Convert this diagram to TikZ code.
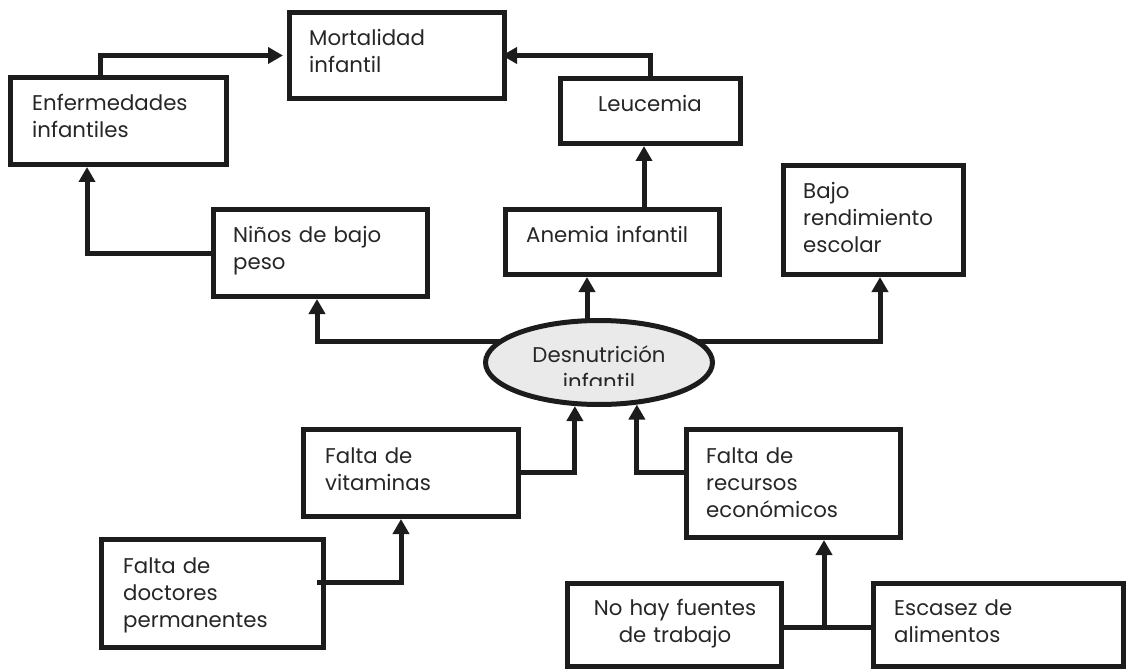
\documentclass[tikz,border=0pt]{standalone}
\usepackage{fontspec}
\setmainfont{Poppins}
\usetikzlibrary{arrows.meta,shapes.geometric,backgrounds}
\definecolor{ink}{HTML}{1C1C1C}
\definecolor{txtc}{HTML}{262626}
\definecolor{ellfill}{HTML}{EAEAEA}
\tikzset{
  box/.style={draw=ink,line width=5pt,rectangle,inner sep=0pt},
  oval/.style={draw=ink,line width=5pt,ellipse,inner sep=0pt,fill=ellfill},
  txt/.style={inner sep=0pt,text=txtc,align=left,font=\fontsize{21.3}{27}\selectfont},
  ctxt/.style={inner sep=0pt,text=txtc,align=center,font=\fontsize{21.3}{27}\selectfont},
  conn/.style={draw=ink,line width=5pt},
  arr/.style={conn,-{Triangle[width=16pt,length=15pt]}}
}
\begin{document}
\begin{tikzpicture}[x=1pt,y=-1pt]
\useasboundingbox (0,0) rectangle (1135,671);
% boxes
\node[box,minimum width=215pt,minimum height=86pt] (mort) at (397,55.5) {};
\node[box,minimum width=216pt,minimum height=87pt] (enf) at (118.5,121) {};
\node[box,minimum width=180pt,minimum height=65pt] (leu) at (650.5,111) {};
\node[box,minimum width=214pt,minimum height=87pt] (nin) at (320.5,253) {};
\node[box,minimum width=214pt,minimum height=65pt] (ane) at (612.5,242) {};
\node[box,minimum width=180pt,minimum height=109pt] (baj) at (873.5,220) {};
\node[oval,minimum width=227pt,minimum height=84pt] (ell) at (599,362.5) {};
\node[box,minimum width=215pt,minimum height=87pt] (vit) at (411,473) {};
\node[box,minimum width=222pt,minimum height=108pt] (doc) at (212.5,593.5) {};
\node[box,minimum width=214pt,minimum height=108pt] (rec) at (793.5,483.5) {};
\node[box,minimum width=214pt,minimum height=83pt] (noh) at (674.5,625) {};
\node[box,minimum width=250pt,minimum height=83pt] (esc) at (998.5,625) {};
% texts
\node[txt,text width=190pt,anchor=base west] (tmort) at (309,46) {Mortalidad\\infantil};
\node[txt,text width=190pt,anchor=base west] (tenf) at (32,111) {Enfermedades\\infantiles};
\node[ctxt,text width=170pt,anchor=base] (tleu) at (650,112) {Leucemia};
\node[txt,text width=190pt,anchor=base west] (tnin) at (233,243) {Niños de bajo\\peso};
\node[txt,text width=190pt,anchor=base west] (tane) at (526,243) {Anemia infantil};
\node[txt,text width=160pt,anchor=base west] (tbaj) at (803,199) {Bajo\\rendimiento\\escolar};
\node[txt,text width=190pt,anchor=base west] (tvit) at (325,463) {Falta de\\vitaminas};
\node[txt,text width=190pt,anchor=base west] (tdoc) at (123,573) {Falta de\\doctores\\permanentes};
\node[txt,text width=190pt,anchor=base west] (trec) at (706,463) {Falta de\\recursos\\económicos};
\node[ctxt,text width=200pt,anchor=base] (tnoh) at (675,615) {No hay fuentes\\de trabajo};
\node[txt,text width=220pt,anchor=base west] (tesc) at (894,615) {Escasez de\\alimentos};
\begin{scope}
  \clip (470,300) rectangle (730,385);
  \node[ctxt,text width=200pt,anchor=base] (tell) at (599,362) {Desnutrición\\infantil};
\end{scope}
% helper coordinates
\coordinate (x87) at (87,0);
\coordinate (x100) at (100,0);
\coordinate (x317) at (317,0);
\coordinate (x401) at (401,0);
\coordinate (x587) at (587,0);
\coordinate (x644) at (644,0);
\coordinate (x824) at (824,0);
\coordinate (x880) at (880,0);
\coordinate (h341) at (0,341);
\coordinate (h472) at (0,472);
\coordinate (h582) at (0,582);
\coordinate (h627) at (0,627);
% connectors
\draw[arr,shorten >=4pt] (enf.north -| x100) |- (mort.west);
\draw[arr,shorten >=-5pt] (leu.north) |- (mort.east);
\draw[arr] (ane.north -| x644) -- (leu.south -| x644);
\draw[arr] (nin.west) -| (enf.south -| x87);
\begin{scope}[on background layer]
  \draw[arr] (ell.center |- h341) -| (nin.south -| x317);
  \draw[arr] (ell.center |- h341) -| (baj.south -| x880);
  \draw[arr] (ell.center -| x587) -- (ane.south -| x587);
\end{scope}
\draw[arr] (vit.east |- h472) -| (ell.241);
\draw[arr] (rec.west |- h472) -| (ell.312);
\draw[arr] ([xshift=-9pt]doc.east |- h582) -| (vit.south -| x401);
\draw[conn] (noh.east |- h627) -- (esc.west |- h627);
\draw[arr] (x824 |- h627) -- (rec.south -| x824);
\end{tikzpicture}
\end{document}
